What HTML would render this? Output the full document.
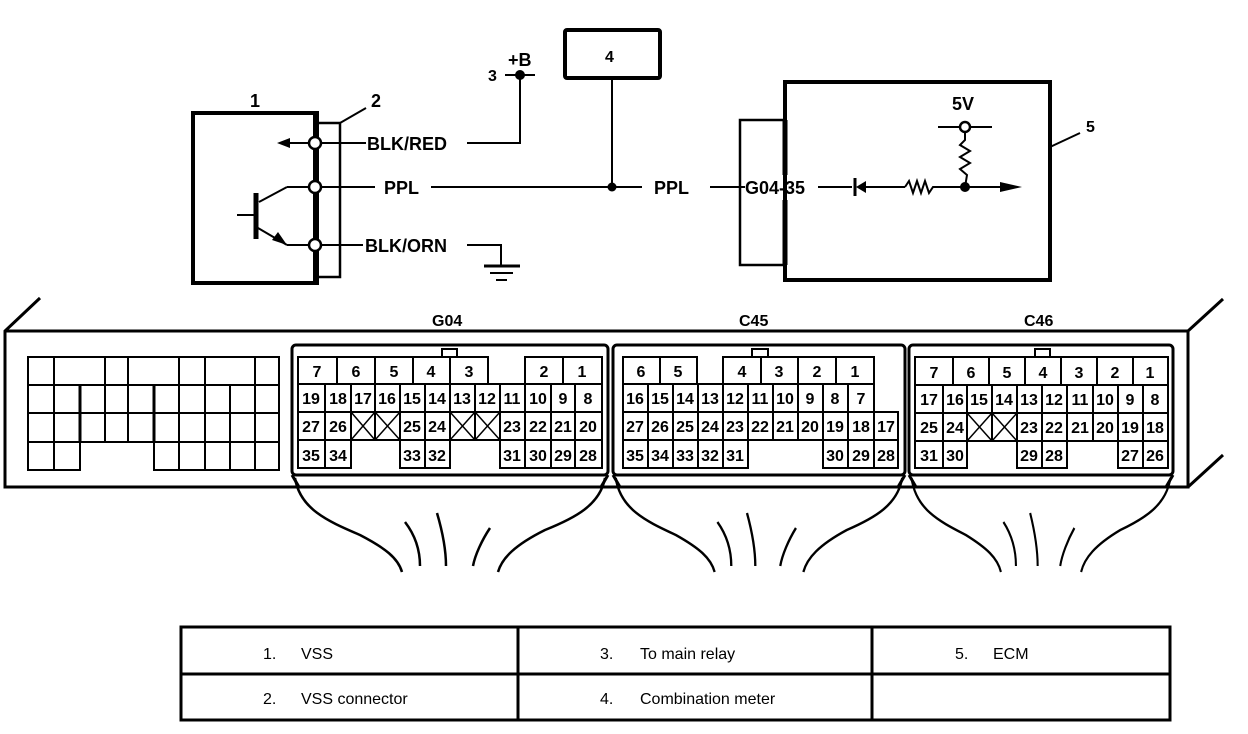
<!DOCTYPE html>
<html><head><meta charset="utf-8"><style>
html,body{margin:0;padding:0;background:#fff;}
svg{display:block;}
text{font-family:"Liberation Sans",Arial,sans-serif;fill:#000;}
.b{font-weight:bold;}
.c text{font-weight:bold;font-size:16px;text-anchor:middle;}
.c rect{fill:#fff;stroke:#000;stroke-width:2;}
</style></head><body>
<svg width="1248" height="734" viewBox="0 0 1248 734" xmlns="http://www.w3.org/2000/svg">
<g fill="none" stroke="#000" stroke-linecap="butt">
<!-- sensor 1 -->
<rect x="193" y="113" width="124" height="170" stroke-width="4"/>
<rect x="317" y="123" width="23" height="154" stroke-width="2.5"/>
<line x1="340" y1="123" x2="366" y2="108" stroke-width="2"/>
<line x1="315" y1="113" x2="315" y2="283" stroke-width="4"/>
<line x1="321" y1="143" x2="366" y2="143" stroke-width="2"/>
<line x1="309" y1="143" x2="290" y2="143" stroke-width="2"/>
<line x1="321" y1="187" x2="375" y2="187" stroke-width="2"/>
<line x1="309" y1="187" x2="287" y2="187" stroke-width="2"/>
<line x1="287" y1="187" x2="259" y2="202" stroke-width="2"/>
<line x1="256" y1="193" x2="256" y2="239" stroke-width="5"/>
<line x1="237" y1="215" x2="256" y2="215" stroke-width="2"/>
<line x1="258" y1="228" x2="287" y2="245" stroke-width="2"/>
<line x1="287" y1="245" x2="309" y2="245" stroke-width="2"/>
<line x1="321" y1="245" x2="363" y2="245" stroke-width="2"/>
<!-- BLK/RED to +B -->
<polyline points="467,143 520,143 520,75" stroke-width="2"/>
<line x1="505" y1="75" x2="535" y2="75" stroke-width="2"/>
<!-- ground -->
<polyline points="467,245 501,245 501,266" stroke-width="2"/>
<line x1="484" y1="266" x2="520" y2="266" stroke-width="3"/>
<line x1="490" y1="273" x2="513" y2="273" stroke-width="2"/>
<line x1="496" y1="280" x2="507" y2="280" stroke-width="2"/>
<!-- PPL line -->
<line x1="431" y1="187" x2="642" y2="187" stroke-width="2"/>
<line x1="710" y1="187" x2="745" y2="187" stroke-width="2"/>
<line x1="818" y1="187" x2="852" y2="187" stroke-width="2"/>
<line x1="862" y1="187" x2="905" y2="187" stroke-width="2"/>
<polyline points="905,187 909,181 913,193 917,181 921,193 925,181 929,193 933,187 1000,187" stroke-width="2"/>
<!-- box 4 -->
<rect x="565" y="30" width="95" height="48" rx="2" stroke-width="4"/>
<line x1="612" y1="78" x2="612" y2="187" stroke-width="2"/>
<!-- ECM -->
<rect x="785" y="82" width="265" height="198" stroke-width="4"/>
<polyline points="785,120 740,120 740,265 785,265" stroke-width="2.5"/>
<line x1="785" y1="120" x2="785" y2="175" stroke-width="5"/>
<line x1="785" y1="200" x2="785" y2="265" stroke-width="5"/>
<line x1="1050" y1="147" x2="1080" y2="133" stroke-width="2"/>
<line x1="938" y1="127" x2="992" y2="127" stroke-width="2"/>
<polyline points="965,132 965,140 960,145 970,151 960,157 970,163 960,169 967,175 965,187" stroke-width="2"/>
<!-- diode -->
<line x1="855" y1="178" x2="855" y2="196" stroke-width="3"/>
</g>
<g fill="#000">
<polygon points="277,143 290,138 290,148"/>
<polygon points="287,245 272,240 278,232"/>
<circle cx="520" cy="75" r="5"/>
<circle cx="612" cy="187" r="4.5"/>
<circle cx="965" cy="187" r="5"/>
<polygon points="856,187 866,181 866,193"/>
<polygon points="1022,187 1000,182 1000,192"/>
</g>
<g fill="#fff" stroke="#000" stroke-width="2.5">
<circle cx="315" cy="143" r="6"/>
<circle cx="315" cy="187" r="6"/>
<circle cx="315" cy="245" r="6"/>
<circle cx="965" cy="127" r="5"/>
</g>
<g class="b" font-size="18">
<text x="250" y="107">1</text>
<text x="371" y="107">2</text>
<text x="488" y="81" font-size="16">3</text>
<text x="508" y="66">+B</text>
<text x="605" y="62" font-size="16">4</text>
<text x="1086" y="132" font-size="16">5</text>
<text x="952" y="110">5V</text>
<text x="367" y="150">BLK/RED</text>
<text x="384" y="194">PPL</text>
<text x="365" y="252">BLK/ORN</text>
<text x="654" y="194">PPL</text>
<text x="745" y="194">G04-35</text>
<text x="432" y="326" font-size="16">G04</text>
<text x="739" y="326" font-size="16">C45</text>
<text x="1024" y="326" font-size="16">C46</text>
</g>
<!-- main ECM connector body -->
<g fill="none" stroke="#000" stroke-width="3">
<polyline points="40,298 5,331 5,487 1188,487 1188,331 5,331"/>
<line x1="1188" y1="331" x2="1223" y2="299"/>
<line x1="1188" y1="487" x2="1223" y2="455"/>
<rect x="292" y="345" width="316" height="130" rx="4"/>
<rect x="613" y="345" width="292" height="130" rx="4"/>
<rect x="909" y="345" width="264" height="130" rx="4"/>
<line x1="292" y1="475" x2="299" y2="487"/>
<line x1="608" y1="475" x2="601" y2="487"/>
<line x1="613" y1="475" x2="620" y2="487"/>
<line x1="905" y1="475" x2="898" y2="487"/>
<line x1="909" y1="475" x2="916" y2="487"/>
<line x1="1173" y1="475" x2="1166" y2="487"/>
</g>
<!-- left grid -->
<g fill="none" stroke="#000" stroke-width="2">
<rect x="28" y="357" width="251" height="85"/>
<line x1="28" y1="385" x2="279" y2="385"/>
<line x1="28" y1="413" x2="279" y2="413"/>
<line x1="28" y1="442" x2="279" y2="442"/>
<polyline points="28,442 28,470 80,470 80,442"/>
<line x1="54" y1="357" x2="54" y2="470"/>
<polyline points="154,442 154,470 279,470 279,442"/>
<line x1="179" y1="357" x2="179" y2="470"/>
<line x1="205" y1="357" x2="205" y2="470"/>
<line x1="230" y1="385" x2="230" y2="470"/>
<line x1="255" y1="357" x2="255" y2="470"/>
<line x1="80" y1="385" x2="80" y2="442" stroke-width="3"/>
<line x1="154" y1="385" x2="154" y2="442" stroke-width="3"/>
<line x1="105" y1="357" x2="105" y2="442"/>
<line x1="128" y1="357" x2="128" y2="442"/>
</g>
<!-- tabs -->
<g fill="#fff" stroke="#000" stroke-width="2">
<rect x="442" y="349" width="15" height="8"/>
<rect x="752" y="349" width="16" height="8"/>
<rect x="1035" y="349" width="15" height="8"/>
</g>
<!-- G04 -->
<g class="c">
<rect x="298" y="357" width="39" height="27"/><text x="317" y="377">7</text>
<rect x="337" y="357" width="38" height="27"/><text x="356" y="377">6</text>
<rect x="375" y="357" width="38" height="27"/><text x="394" y="377">5</text>
<rect x="413" y="357" width="37" height="27"/><text x="431" y="377">4</text>
<rect x="450" y="357" width="38" height="27"/><text x="469" y="377">3</text>
<rect x="525" y="357" width="38" height="27"/><text x="544" y="377">2</text>
<rect x="563" y="357" width="39" height="27"/><text x="582" y="377">1</text>
<rect x="298" y="384" width="27" height="28"/><text x="311" y="404">19</text>
<rect x="325" y="384" width="26" height="28"/><text x="338" y="404">18</text>
<rect x="351" y="384" width="24" height="28"/><text x="363" y="404">17</text>
<rect x="375" y="384" width="25" height="28"/><text x="387" y="404">16</text>
<rect x="400" y="384" width="25" height="28"/><text x="412" y="404">15</text>
<rect x="425" y="384" width="25" height="28"/><text x="437" y="404">14</text>
<rect x="450" y="384" width="25" height="28"/><text x="462" y="404">13</text>
<rect x="475" y="384" width="25" height="28"/><text x="487" y="404">12</text>
<rect x="500" y="384" width="25" height="28"/><text x="512" y="404">11</text>
<rect x="525" y="384" width="26" height="28"/><text x="538" y="404">10</text>
<rect x="551" y="384" width="24" height="28"/><text x="563" y="404">9</text>
<rect x="575" y="384" width="27" height="28"/><text x="588" y="404">8</text>
<rect x="298" y="412" width="27" height="28"/><text x="311" y="432">27</text>
<rect x="325" y="412" width="26" height="28"/><text x="338" y="432">26</text>
<rect x="351" y="412" width="24" height="28"/>
<rect x="375" y="412" width="25" height="28"/>
<rect x="400" y="412" width="25" height="28"/><text x="412" y="432">25</text>
<rect x="425" y="412" width="25" height="28"/><text x="437" y="432">24</text>
<rect x="450" y="412" width="25" height="28"/>
<rect x="475" y="412" width="25" height="28"/>
<rect x="500" y="412" width="25" height="28"/><text x="512" y="432">23</text>
<rect x="525" y="412" width="26" height="28"/><text x="538" y="432">22</text>
<rect x="551" y="412" width="24" height="28"/><text x="563" y="432">21</text>
<rect x="575" y="412" width="27" height="28"/><text x="588" y="432">20</text>
<rect x="298" y="440" width="27" height="28"/><text x="311" y="461">35</text>
<rect x="325" y="440" width="26" height="28"/><text x="338" y="461">34</text>
<rect x="400" y="440" width="25" height="28"/><text x="412" y="461">33</text>
<rect x="425" y="440" width="25" height="28"/><text x="437" y="461">32</text>
<rect x="500" y="440" width="25" height="28"/><text x="512" y="461">31</text>
<rect x="525" y="440" width="26" height="28"/><text x="538" y="461">30</text>
<rect x="551" y="440" width="24" height="28"/><text x="563" y="461">29</text>
<rect x="575" y="440" width="27" height="28"/><text x="588" y="461">28</text>
</g>
<!-- C45 -->
<g class="c">
<rect x="623" y="357" width="37" height="27"/><text x="641" y="377">6</text>
<rect x="660" y="357" width="37" height="27"/><text x="678" y="377">5</text>
<rect x="723" y="357" width="38" height="27"/><text x="742" y="377">4</text>
<rect x="761" y="357" width="37" height="27"/><text x="779" y="377">3</text>
<rect x="798" y="357" width="38" height="27"/><text x="817" y="377">2</text>
<rect x="836" y="357" width="38" height="27"/><text x="855" y="377">1</text>
<rect x="623" y="384" width="25" height="28"/><text x="635" y="404">16</text>
<rect x="648" y="384" width="25" height="28"/><text x="660" y="404">15</text>
<rect x="673" y="384" width="25" height="28"/><text x="685" y="404">14</text>
<rect x="698" y="384" width="25" height="28"/><text x="710" y="404">13</text>
<rect x="723" y="384" width="25" height="28"/><text x="735" y="404">12</text>
<rect x="748" y="384" width="25" height="28"/><text x="760" y="404">11</text>
<rect x="773" y="384" width="25" height="28"/><text x="785" y="404">10</text>
<rect x="798" y="384" width="25" height="28"/><text x="810" y="404">9</text>
<rect x="823" y="384" width="25" height="28"/><text x="835" y="404">8</text>
<rect x="848" y="384" width="26" height="28"/><text x="861" y="404">7</text>
<rect x="623" y="412" width="25" height="28"/><text x="635" y="432">27</text>
<rect x="648" y="412" width="25" height="28"/><text x="660" y="432">26</text>
<rect x="673" y="412" width="25" height="28"/><text x="685" y="432">25</text>
<rect x="698" y="412" width="25" height="28"/><text x="710" y="432">24</text>
<rect x="723" y="412" width="25" height="28"/><text x="735" y="432">23</text>
<rect x="748" y="412" width="25" height="28"/><text x="760" y="432">22</text>
<rect x="773" y="412" width="25" height="28"/><text x="785" y="432">21</text>
<rect x="798" y="412" width="25" height="28"/><text x="810" y="432">20</text>
<rect x="823" y="412" width="25" height="28"/><text x="835" y="432">19</text>
<rect x="848" y="412" width="26" height="28"/><text x="861" y="432">18</text>
<rect x="874" y="412" width="24" height="28"/><text x="886" y="432">17</text>
<rect x="623" y="440" width="25" height="28"/><text x="635" y="461">35</text>
<rect x="648" y="440" width="25" height="28"/><text x="660" y="461">34</text>
<rect x="673" y="440" width="25" height="28"/><text x="685" y="461">33</text>
<rect x="698" y="440" width="25" height="28"/><text x="710" y="461">32</text>
<rect x="723" y="440" width="25" height="28"/><text x="735" y="461">31</text>
<rect x="823" y="440" width="25" height="28"/><text x="835" y="461">30</text>
<rect x="848" y="440" width="26" height="28"/><text x="861" y="461">29</text>
<rect x="874" y="440" width="24" height="28"/><text x="886" y="461">28</text>
</g>
<!-- C46 -->
<g class="c">
<rect x="915" y="357" width="38" height="28"/><text x="934" y="378">7</text>
<rect x="953" y="357" width="36" height="28"/><text x="971" y="378">6</text>
<rect x="989" y="357" width="36" height="28"/><text x="1007" y="378">5</text>
<rect x="1025" y="357" width="36" height="28"/><text x="1043" y="378">4</text>
<rect x="1061" y="357" width="36" height="28"/><text x="1079" y="378">3</text>
<rect x="1097" y="357" width="36" height="28"/><text x="1115" y="378">2</text>
<rect x="1133" y="357" width="35" height="28"/><text x="1150" y="378">1</text>
<rect x="915" y="385" width="28" height="28"/><text x="929" y="405">17</text>
<rect x="943" y="385" width="24" height="28"/><text x="955" y="405">16</text>
<rect x="967" y="385" width="25" height="28"/><text x="979" y="405">15</text>
<rect x="992" y="385" width="25" height="28"/><text x="1004" y="405">14</text>
<rect x="1017" y="385" width="25" height="28"/><text x="1029" y="405">13</text>
<rect x="1042" y="385" width="25" height="28"/><text x="1054" y="405">12</text>
<rect x="1067" y="385" width="26" height="28"/><text x="1080" y="405">11</text>
<rect x="1093" y="385" width="25" height="28"/><text x="1105" y="405">10</text>
<rect x="1118" y="385" width="25" height="28"/><text x="1130" y="405">9</text>
<rect x="1143" y="385" width="25" height="28"/><text x="1155" y="405">8</text>
<rect x="915" y="413" width="28" height="28"/><text x="929" y="433">25</text>
<rect x="943" y="413" width="24" height="28"/><text x="955" y="433">24</text>
<rect x="967" y="413" width="25" height="28"/>
<rect x="992" y="413" width="25" height="28"/>
<rect x="1017" y="413" width="25" height="28"/><text x="1029" y="433">23</text>
<rect x="1042" y="413" width="25" height="28"/><text x="1054" y="433">22</text>
<rect x="1067" y="413" width="26" height="28"/><text x="1080" y="433">21</text>
<rect x="1093" y="413" width="25" height="28"/><text x="1105" y="433">20</text>
<rect x="1118" y="413" width="25" height="28"/><text x="1130" y="433">19</text>
<rect x="1143" y="413" width="25" height="28"/><text x="1155" y="433">18</text>
<rect x="915" y="441" width="28" height="27"/><text x="929" y="461">31</text>
<rect x="943" y="441" width="24" height="27"/><text x="955" y="461">30</text>
<rect x="1017" y="441" width="25" height="27"/><text x="1029" y="461">29</text>
<rect x="1042" y="441" width="25" height="27"/><text x="1054" y="461">28</text>
<rect x="1118" y="441" width="25" height="27"/><text x="1130" y="461">27</text>
<rect x="1143" y="441" width="25" height="27"/><text x="1155" y="461">26</text>
</g>
<!-- X marks -->
<g stroke="#000" stroke-width="1.5">
<path d="M351,412 L375,440 M375,412 L351,440 M375,412 L400,440 M400,412 L375,440"/>
<path d="M450,412 L475,440 M475,412 L450,440 M475,412 L500,440 M500,412 L475,440"/>
<path d="M967,413 L992,441 M992,413 L967,441 M992,413 L1017,441 M1017,413 L992,441"/>
</g>
<!-- harness -->
<g id="h" fill="none" stroke="#000" stroke-width="2.5">
<path d="M295,478 C300,510 330,522 360,535 C385,548 398,558 402,572"/>
<path d="M605,478 C600,505 575,518 545,530 C515,545 502,558 498,572"/>
<path d="M405,522 C415,535 420,550 420,566"/>
<path d="M437,513 C442,530 446,550 446,566"/>
<path d="M490,528 C482,540 475,555 473,566"/>
</g>
<g fill="none" stroke="#000" stroke-width="2.5" transform="translate(759,0) scale(0.924,1) translate(-450,0)">
<path d="M295,478 C300,510 330,522 360,535 C385,548 398,558 402,572"/>
<path d="M605,478 C600,505 575,518 545,530 C515,545 502,558 498,572"/>
<path d="M405,522 C415,535 420,550 420,566"/>
<path d="M437,513 C442,530 446,550 446,566"/>
<path d="M490,528 C482,540 475,555 473,566"/>
</g>
<g fill="none" stroke="#000" stroke-width="2.5" transform="translate(1041,0) scale(0.835,1) translate(-450,0)">
<path d="M295,478 C300,510 330,522 360,535 C385,548 398,558 402,572"/>
<path d="M605,478 C600,505 575,518 545,530 C515,545 502,558 498,572"/>
<path d="M405,522 C415,535 420,550 420,566"/>
<path d="M437,513 C442,530 446,550 446,566"/>
<path d="M490,528 C482,540 475,555 473,566"/>
</g>
<!-- table -->
<g fill="none" stroke="#000" stroke-width="3">
<rect x="181" y="627" width="989" height="93"/>
<line x1="181" y1="674" x2="1170" y2="674"/>
<line x1="518" y1="627" x2="518" y2="720"/>
<line x1="872" y1="627" x2="872" y2="720"/>
</g>
<g font-size="16">
<text x="263" y="659">1.</text><text x="301" y="659">VSS</text>
<text x="600" y="659">3.</text><text x="640" y="659">To main relay</text>
<text x="955" y="659">5.</text><text x="993" y="659">ECM</text>
<text x="263" y="704">2.</text><text x="301" y="704">VSS connector</text>
<text x="600" y="704">4.</text><text x="640" y="704">Combination meter</text>
</g>
</svg>
</body></html>
